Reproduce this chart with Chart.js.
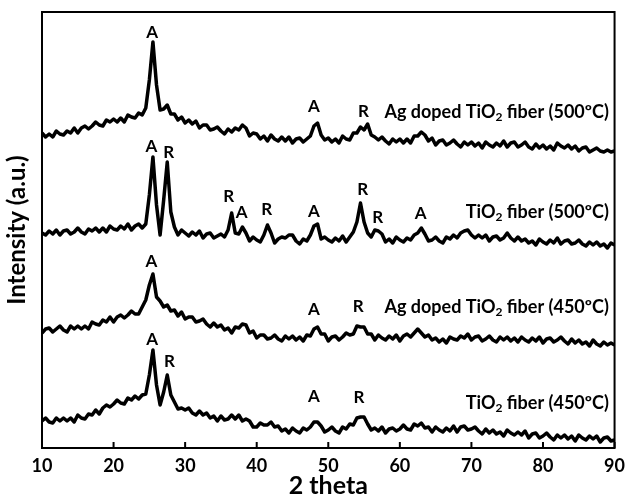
<!DOCTYPE html>
<html>
<head>
<meta charset="utf-8">
<script src="https://cdn.jsdelivr.net/npm/chart.js@4.4.1/dist/chart.umd.min.js"></script>
<style>
html, body { margin: 0; padding: 0; background: #fff; }
canvas { display: block; }
</style>
</head>
<body>
<canvas id="xrdChart" width="632" height="501"></canvas>
<script>
// 2 theta sampling (degrees)
const twoTheta = [
  10, 10.5, 11, 11.5, 12, 12.5, 13, 13.5, 14, 14.5,
  15, 15.5, 16, 16.5, 17, 17.5, 18, 18.5, 19, 19.5,
  20, 20.5, 21, 21.5, 22, 22.5, 23, 23.5, 24, 24.5,
  25, 25.5, 26, 26.5, 27, 27.5, 28, 28.5, 29, 29.5,
  30, 30.5, 31, 31.5, 32, 32.5, 33, 33.5, 34, 34.5,
  35, 35.5, 36, 36.5, 37, 37.5, 38, 38.5, 39, 39.5,
  40, 40.5, 41, 41.5, 42, 42.5, 43, 43.5, 44, 44.5,
  45, 45.5, 46, 46.5, 47, 47.5, 48, 48.5, 49, 49.5,
  50, 50.5, 51, 51.5, 52, 52.5, 53, 53.5, 54, 54.5,
  55, 55.5, 56, 56.5, 57, 57.5, 58, 58.5, 59, 59.5,
  60, 60.5, 61, 61.5, 62, 62.5, 63, 63.5, 64, 64.5,
  65, 65.5, 66, 66.5, 67, 67.5, 68, 68.5, 69, 69.5,
  70, 70.5, 71, 71.5, 72, 72.5, 73, 73.5, 74, 74.5,
  75, 75.5, 76, 76.5, 77, 77.5, 78, 78.5, 79, 79.5,
  80, 80.5, 81, 81.5, 82, 82.5, 83, 83.5, 84, 84.5,
  85, 85.5, 86, 86.5, 87, 87.5, 88, 88.5, 89, 89.5,
  90
];

// intensities (a.u., traces already stacked with offsets)
const agTiO2_500 = [
  315, 311, 314, 311, 317, 314, 313, 317, 315, 320,
  315, 320, 322, 319, 322, 326, 323, 322, 328, 326,
  329, 326, 330, 326, 333, 331, 330, 335, 333, 340,
  368, 406, 363, 338, 339, 343, 334, 334, 328, 331,
  325, 328, 324, 327, 320, 323, 323, 318, 319, 321,
  317, 314, 319, 316, 320, 318, 323, 320, 312, 315,
  314, 309, 312, 307, 313, 309, 307, 311, 307, 311,
  305, 309, 310, 306, 309, 312, 322, 325, 313, 308,
  310, 306, 309, 305, 312, 309, 308, 315, 315, 321,
  318, 324, 313, 311, 308, 311, 307, 304, 309, 306,
  309, 305, 309, 305, 312, 312, 316, 313, 307, 310,
  303, 307, 308, 303, 305, 308, 304, 301, 306, 303,
  306, 302, 305, 300, 306, 303, 301, 305, 302, 307,
  301, 305, 306, 301, 303, 306, 301, 299, 304, 300,
  303, 299, 302, 298, 305, 302, 300, 303, 299, 302,
  297, 300, 301, 296, 298, 300, 297, 296, 298, 296,
  297
];
const tiO2_500 = [
  215, 213, 217, 214, 218, 213, 217, 218, 214, 216,
  220, 216, 214, 219, 217, 220, 216, 220, 216, 222,
  219, 218, 222, 219, 224, 218, 222, 224, 220, 224,
  253, 291, 243, 213, 248, 286, 236, 221, 213, 218,
  215, 212, 216, 213, 217, 210, 214, 215, 210, 212,
  214, 211, 218, 235, 215, 214, 221, 215, 207, 211,
  208, 206, 213, 223, 215, 205, 209, 211, 210, 213,
  213, 207, 204, 209, 207, 213, 222, 224, 209, 211,
  208, 206, 210, 207, 212, 206, 211, 216, 226, 245,
  226, 215, 211, 218, 217, 214, 206, 209, 205, 211,
  208, 206, 210, 208, 213, 215, 220, 214, 207, 208,
  211, 207, 205, 211, 209, 213, 210, 215, 217, 218,
  213, 210, 213, 210, 213, 207, 211, 212, 208, 210,
  215, 210, 207, 211, 207, 209, 205, 207, 203, 209,
  206, 204, 208, 205, 210, 204, 207, 208, 204, 205,
  208, 204, 202, 206, 203, 206, 202, 204, 200, 205,
  203
];
const agTiO2_450 = [
  115, 119, 120, 116, 119, 122, 118, 116, 122, 119,
  122, 119, 122, 119, 126, 124, 123, 128, 126, 131,
  126, 131, 133, 130, 133, 137, 134, 134, 141, 148,
  163, 174, 151, 147, 141, 143, 137, 138, 132, 136,
  129, 131, 131, 126, 127, 129, 124, 121, 125, 121,
  123, 118, 120, 115, 121, 120, 124, 123, 115, 117,
  110, 113, 113, 109, 110, 113, 109, 107, 112, 109,
  112, 108, 111, 107, 113, 112, 119, 121, 114, 114,
  107, 111, 112, 108, 111, 115, 113, 114, 122, 121,
  121, 114, 114, 108, 113, 110, 108, 112, 109, 113,
  107, 112, 114, 111, 115, 119, 115, 111, 113, 108,
  110, 106, 109, 105, 111, 109, 108, 112, 110, 114,
  108, 111, 112, 107, 109, 112, 108, 106, 111, 108,
  111, 107, 110, 106, 111, 108, 106, 110, 107, 111,
  105, 109, 110, 106, 108, 111, 107, 104, 109, 105,
  108, 104, 106, 102, 108, 104, 102, 106, 103, 105,
  103
];
const tiO2_450 = [
  27, 30, 26, 25, 30, 27, 30, 27, 30, 26,
  33, 30, 29, 34, 33, 38, 34, 40, 43, 41,
  44, 48, 45, 44, 50, 48, 52, 49, 53, 54,
  73, 98, 63, 43, 56, 73, 53, 46, 39, 40,
  38, 40, 35, 33, 37, 33, 35, 30, 32, 27,
  32, 28, 29, 33, 29, 33, 27, 29, 27, 21,
  21, 25, 23, 23, 26, 21, 22, 17, 19, 15,
  20, 17, 15, 20, 18, 21, 26, 26, 22, 16,
  18, 21, 17, 15, 21, 19, 24, 23, 30, 31,
  31, 24, 18, 20, 17, 21, 15, 19, 20, 17,
  19, 23, 19, 18, 24, 22, 25, 20, 21, 16,
  21, 18, 16, 20, 17, 22, 16, 21, 22, 18,
  19, 21, 17, 14, 19, 15, 18, 14, 16, 12,
  18, 15, 13, 16, 13, 17, 10, 14, 15, 10,
  12, 15, 11, 8, 13, 10, 13, 9, 12, 7,
  13, 10, 8, 12, 9, 12, 6, 10, 11, 7,
  8
];

const seriesNames = [
  'Ag doped TiO2 fiber (500ºC)',
  'TiO2 fiber (500ºC)',
  'Ag doped TiO2 fiber (450ºC)',
  'TiO2 fiber (450ºC)'
];
const nameX = [89.2, 89.2, 89.2, 89.2];
const nameY = [336, 236, 141, 45];

// phase marks: A = anatase, R = rutile
const peakTag = ['A', 'A', 'R',
  'A', 'R', 'R', 'A', 'R', 'A', 'R', 'R', 'A',
  'A', 'A', 'R',
  'A', 'R', 'A', 'R'];
const peakX = [25.4, 48.0, 54.9,
  25.3, 27.7, 36.1, 37.9, 41.4, 48.0, 54.8, 56.9, 62.9,
  25.3, 48.0, 54.2,
  25.4, 27.8, 48.0, 54.3];
const peakY = [415, 341, 336,
  301, 295, 251, 235, 238, 236, 258, 230, 234,
  186, 138, 141,
  108, 86, 51, 50];

const xTicks = [10, 20, 30, 40, 50, 60, 70, 80, 90];

const fontFamily = "Lato, 'Open Sans', sans-serif";

function toPoints(values) {
    return values.map((v, i) => ({ x: twoTheta[i], y: v }));
}

function drawName(ctx, text, xRight, yMid) {
    const big = 'bold 18px ' + fontFamily;
    const small = 'bold 12px ' + fontFamily;
    const cut = text.indexOf('TiO2');
    const head = text.slice(0, cut + 3);
    const tail = text.slice(cut + 4);
    ctx.font = big;
    const wHead = ctx.measureText(head).width;
    const wTail = ctx.measureText(tail).width;
    ctx.font = small;
    const wSub = ctx.measureText('2').width;
    let x = xRight - (wHead + wSub + wTail);
    ctx.textAlign = 'left';
    ctx.textBaseline = 'middle';
    ctx.font = big;
    ctx.fillText(head, x, yMid);
    x += wHead;
    ctx.font = small;
    ctx.fillText('2', x, yMid + 5);
    x += wSub;
    ctx.font = big;
    ctx.fillText(tail, x, yMid);
}

const decorPlugin = {
    id: 'decor',
    afterDatasetsDraw(chart) {
        const { ctx, chartArea: a, scales: { x, y } } = chart;
        ctx.save();
        ctx.strokeStyle = '#000';
        ctx.lineWidth = 2;
        ctx.strokeRect(a.left, a.top, a.right - a.left, a.bottom - a.top);
        ctx.beginPath();
        xTicks.forEach(v => {
            const px = x.getPixelForValue(v);
            ctx.moveTo(px, a.bottom);
            ctx.lineTo(px, a.bottom - 6);
        });
        ctx.stroke();

        ctx.fillStyle = '#000';
        ctx.font = 'bold 17px ' + fontFamily;
        ctx.textAlign = 'center';
        ctx.textBaseline = 'middle';
        peakTag.forEach((t, i) => {
            ctx.fillText(t, x.getPixelForValue(peakX[i]), y.getPixelForValue(peakY[i]));
        });

        seriesNames.forEach((n, i) => {
            drawName(ctx, n, x.getPixelForValue(nameX[i]), y.getPixelForValue(nameY[i]));
        });
        ctx.restore();
    }
};

const traces = [agTiO2_500, tiO2_500, agTiO2_450, tiO2_450];

new Chart(document.getElementById('xrdChart'), {
    type: 'line',
    data: {
        datasets: traces.map((t, i) => ({
            label: seriesNames[i],
            data: toPoints(t),
            borderColor: '#000',
            borderWidth: 3.5,
            borderJoinStyle: 'round',
            pointRadius: 0,
            tension: 0,
            fill: false
        }))
    },
    options: {
        responsive: false,
        animation: false,
        layout: { padding: { top: 12, right: 14, left: 0, bottom: 0 } },
        plugins: {
            legend: { display: false },
            tooltip: { enabled: false }
        },
        scales: {
            x: {
                type: 'linear',
                min: 10,
                max: 90,
                grid: { display: false, drawTicks: false },
                border: { display: false },
                ticks: {
                    stepSize: 10,
                    padding: 7,
                    color: '#000',
                    font: { family: fontFamily, size: 18, weight: 'bold' }
                },
                title: {
                    display: true,
                    text: '2 theta',
                    color: '#000',
                    padding: { top: 0, bottom: 0 },
                    font: { family: fontFamily, size: 25, weight: 'bold' }
                },
                afterFit(scale) { scale.height = 53; }
            },
            y: {
                min: 0,
                max: 436,
                grid: { display: false, drawTicks: false },
                border: { display: false },
                ticks: { display: false },
                title: {
                    display: true,
                    text: 'Intensity (a.u.)',
                    color: '#000',
                    padding: { top: 3, bottom: 0 },
                    font: { family: fontFamily, size: 24, weight: 'bold' }
                },
                afterFit(scale) { scale.width = 42; }
            }
        }
    },
    plugins: [decorPlugin]
});
</script>
</body>
</html>
